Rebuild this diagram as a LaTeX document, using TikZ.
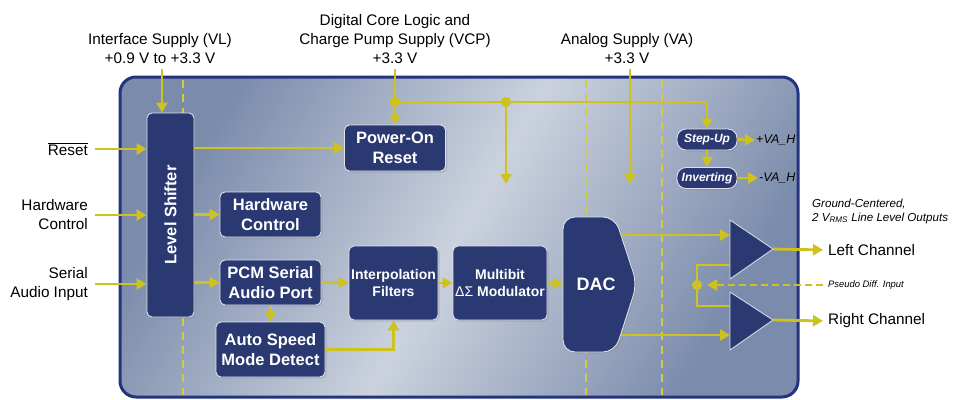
\documentclass[tikz,border=0pt]{standalone}
\usepackage{fontspec}
\setmainfont{Liberation Sans}
\usetikzlibrary{arrows.meta,shadows}
\definecolor{navy}{RGB}{43,57,114}
\definecolor{chipedge}{RGB}{36,52,124}
\definecolor{chipdark}{RGB}{122,139,171}
\definecolor{chiplight}{RGB}{203,210,222}
\definecolor{sigyellow}{RGB}{206,194,30}
\tikzset{
    blk/.style={draw=white!85!navy, line width=0.9pt, fill=navy, rounded corners=5pt,
        text=white, align=center, inner sep=1pt,
        font=\fontsize{16.5}{19.5}\selectfont\bfseries,
        drop shadow={opacity=0.3, shadow xshift=1.5pt, shadow yshift=-1.5pt}},
    pill/.style={blk, rounded corners=9pt, minimum width=60, minimum height=21,
        font=\fontsize{12}{14}\selectfont\bfseries\itshape},
    amp/.style={fill=navy, draw=white!80!navy, line width=0.9pt, line join=round},
    lbl/.style={align=right, inner sep=0pt, font=\fontsize{15.3}{19}\selectfont},
    note/.style={anchor=west, inner sep=0pt, font=\fontsize{12.5}{14}\selectfont\itshape},
    sig/.style={draw=sigyellow, line width=2.8pt, -{Triangle[length=10pt,width=11pt]}},
    wire/.style={draw=sigyellow, line width=2.8pt},
    part/.style={draw=sigyellow!85!white, line width=1.3pt, dash pattern=on 8pt off 6pt},
    dot/.style={circle, fill=sigyellow, inner sep=0pt, minimum size=10pt},
}

\begin{document}
\begin{tikzpicture}[x=1pt,y=-1pt]
    \useasboundingbox (0,0) rectangle (953,399);
    % chip body
    \shade[left color=chipdark, right color=chipdark, middle color=chiplight, shading angle=60,
        rounded corners=16pt] (120,77) rectangle (798,397);
    \draw[chipedge, line width=3pt, rounded corners=16pt] (120,77) rectangle (798,397);
    \foreach \px in {183,586,662}
        \draw[part] (\px,80) -- (\px,395);

    % supply labels
    \node[lbl, align=center, anchor=south] (vll) at (160,64) {Interface Supply (VL)\\+0.9 V to +3.3 V};
    \node[lbl, align=center, anchor=south] (vcpl) at (395,64) {Digital Core Logic and\\Charge Pump Supply (VCP)\\+3.3 V};
    \node[lbl, align=center, anchor=south] (val) at (627,64) {Analog Supply (VA)\\+3.3 V};

    % input labels
    \node[lbl, anchor=east] (rstl) at (88,149) {$\overline{\mbox{Reset}}$};
    \node[lbl, anchor=east] (hwl) at (88,215) {Hardware\\Control};
    \node[lbl, anchor=east] (sail) at (88,284) {Serial\\Audio Input};

    % blocks
    \node[blk, minimum width=47, minimum height=204] (lvl) at (170.5,215) {\rotatebox{90}{Level Shifter}};
    \node[blk, minimum width=101, minimum height=46] (por) at (395,148) {Power-On\\Reset};
    \node[blk, minimum width=101, minimum height=45] (hwc) at (270.5,214.5) {Hardware\\Control};
    \node[blk, minimum width=101, minimum height=45] (pcm) at (270.5,282.5) {PCM Serial\\Audio Port};
    \node[blk, minimum width=109, minimum height=55] (asd) at (270.5,349.5) {Auto Speed\\Mode Detect};
    \node[blk, minimum width=89, minimum height=74, font=\fontsize{14}{17}\selectfont\bfseries] (ipf) at (393.5,283) {Interpolation\\Filters};
    \node[blk, minimum width=94, minimum height=74, font=\fontsize{14}{17}\selectfont\bfseries] (mod) at (500,283) {Multibit\\{\mdseries ΔΣ} Modulator};
    \draw[blk, rounded corners=12pt] (563,217) -- (615,217) -- (637,284) -- (615,352) -- (563,352) -- cycle;
    \node[text=white, font=\fontsize{18}{20}\selectfont\bfseries] (dac) at (596,284) {DAC};
    \coordinate (dacin) at (563,284);
    \coordinate (dacl) at (621,235);
    \coordinate (dacr) at (621,335);
    \node[pill] (stp) at (707,139.5) {Step-Up};
    \node[pill] (inv) at (707,178) {Inverting};

    % output amplifiers
    \draw[amp] (730,220) -- (773,249) -- (730,279) -- cycle;
    \draw[amp] (730,292) -- (773,320) -- (730,350) -- cycle;
    \coordinate (ampLin) at (730,235);
    \coordinate (ampRin) at (730,335);
    \coordinate (ampL) at (773,249);
    \coordinate (ampR) at (773,320);
    \coordinate (fbt) at (730,265);
    \coordinate (fbb) at (730,306);

    % supplies
    \coordinate (vl) at (162,69);
    \coordinate (vcp) at (395,69);
    \coordinate (va) at (630,69);
    \coordinate (vae) at (630,184);
    \coordinate (j2e) at (506,184);
    \draw[sig] (vl) -- (vl |- lvl.north);
    \draw[sig] (vcp) -- (por.north);
    \node[dot] (j1) at (395,102) {};
    \node[dot] (j2) at (506,102) {};
    \draw[sig] (j1.center) -| (stp.north);
    \draw[sig] (j2.center) -- (j2e);
    \draw[sig] (va) -- (vae);
    \node[dot] at (j1) {};
    \node[dot] at (j2) {};
    \draw[sig] (stp.south) -- (inv.north);
    \node[note] (vah) at (756,140) {+VA\_H};
    \node[note] (vahn) at (759,178) {-VA\_H};
    \draw[sig, shorten >=1pt] (stp.east) -- (vah.west);
    \draw[sig, shorten >=1pt] (inv.east) -- (vahn.west);

    % signal path
    \draw[sig, shorten <=7pt] (rstl.east) -- (rstl.east -| lvl.west);
    \draw[sig, shorten <=7pt] (hwl.east) -- (hwl.east -| lvl.west);
    \draw[sig, shorten <=7pt] (sail.east) -- (sail.east -| lvl.west);
    \draw[sig] (lvl.east |- por) -- (por.west);
    \draw[sig] (lvl.east |- hwc) -- (hwc.west);
    \draw[sig] (lvl.east |- pcm) -- (pcm.west);
    \draw[sig] (pcm.south) -- (asd.north);
    \draw[sig] (pcm.east) -- (pcm.east -| ipf.west);
    \draw[sig] (asd.east) -| (ipf.south);
    \draw[sig] (ipf.east) -- (ipf.east -| mod.west);
    \draw[sig] (mod.east) -- (dacin);
    \draw[sig] (dacl) -- (ampLin);
    \draw[sig] (dacr) -- (ampRin);

    % outputs
    \node[note, align=left, font=\fontsize{11.6}{13.5}\selectfont\itshape, anchor=north west] (gnd) at (812,199)
        {Ground-Centered,\\2 V\textsubscript{RMS} Line Level Outputs};
    \node[lbl, anchor=west] (lch) at (828,250) {Left Channel};
    \node[lbl, anchor=west] (rch) at (828,321) {Right Channel};
    \node[note, font=\fontsize{9.4}{11}\selectfont\itshape] (pdi) at (828,285) {Pseudo Diff. Input};
    \draw[sig, shorten >=5pt] (ampL) -- (lch.west);
    \draw[sig, shorten >=5pt] (ampR) -- (rch.west);
    \node[dot] (fb) at (697,285) {};
    \draw[wire] (fbt) -| (fb.center) |- (fbb);
    \draw[sig, line width=2.4pt, dash pattern=on 7pt off 4pt, shorten <=5pt, shorten >=5pt] (pdi.west) -- (fb.east);
    \node[dot] at (fb) {};
\end{tikzpicture}
\end{document}
